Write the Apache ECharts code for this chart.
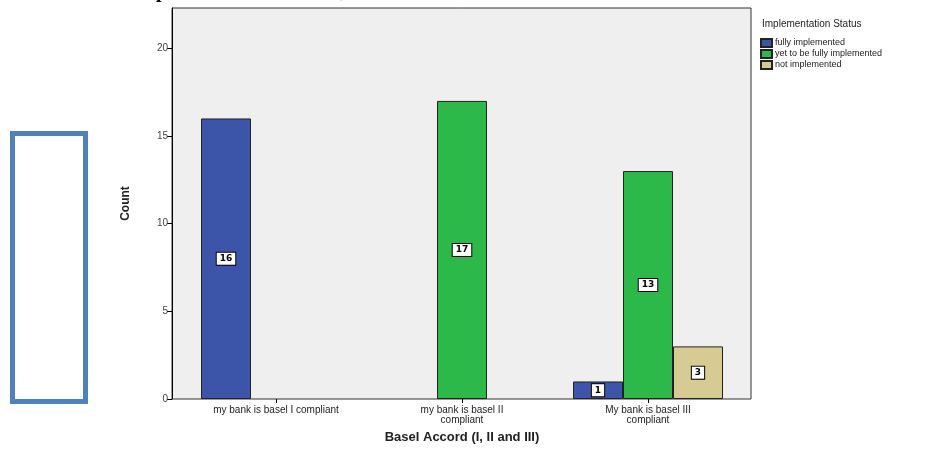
<!DOCTYPE html>
<html>
<head>
<meta charset="utf-8">
<script src="https://cdn.jsdelivr.net/npm/echarts@6/dist/echarts.min.js"></script>
<style>html,body{margin:0;padding:0;background:#fff;}#c{width:943px;height:451px;}</style>
</head>
<body>
<div id="c"></div>
<script>
const categories = ["my bank is basel I compliant", "my bank is basel II\ncompliant", "My bank is basel III\ncompliant"];
const seriesNames = ["fully implemented", "yet to be fully implemented", "not implemented"];
const fullyImplemented = [16, null, 1];
const yetToBeFully = [null, 17, 13];
const notImplemented = [null, null, 3];
const yTicks = [0, 5, 10, 15, 20];

const colors = ["#3d55a8", "#2db84a", "#d6cb92"];
const chart = echarts.init(document.getElementById('c'));
const labelCfg = {
  show: true, position: 'inside', color: '#000', fontSize: 9, fontWeight: 'bold',
  fontFamily: 'DejaVu Sans', backgroundColor: '#fff', borderColor: '#000', borderWidth: 1,
  padding: [2, 3, 1, 3], formatter: p => p.value
};
function mk(name, data, i) {
  return {
    name: name, type: 'bar', data: data, xAxisIndex: 1, yAxisIndex: 1,
    barWidth: 50, barGap: '0%',
    itemStyle: { color: colors[i], borderColor: '#222', borderWidth: 1 },
    label: labelCfg
  };
}
chart.setOption({
  animation: false,
  backgroundColor: '#fff',
  title: [
    { text: 'Status of Basel Implementation in India, bank wise', left: -4, top: -23,
      textStyle: { fontFamily: 'Liberation Serif', fontWeight: 'bold', fontSize: 20, color: '#000' } },
    { text: 'Implementation Status', left: 757, top: 14,
      textStyle: { fontFamily: 'Liberation Sans', fontWeight: 'normal', fontSize: 10, color: '#222' } }
  ],
  graphic: [{
    type: 'rect', left: 10, top: 131,
    shape: { width: 73, height: 268 },
    style: { fill: '#fff', stroke: '#4f81bd', lineWidth: 5 }
  }],
  legend: {
    data: seriesNames, orient: 'vertical', left: 755, top: 33,
    itemWidth: 11, itemHeight: 8, itemGap: 1,
    textStyle: { fontSize: 9, fontFamily: 'Liberation Sans', color: '#222', padding: [0,0,0,-2] },
    icon: 'rect'
  },
  grid: [
    { left: 172, right: 192, top: 8, bottom: 52, show: true, backgroundColor: '#efefef', borderColor: '#333', borderWidth: 1, outerBoundsMode: 'none', containLabel: false },
    { left: 183, right: 202, top: 8, bottom: 52, outerBoundsMode: 'none', containLabel: false }
  ],
  xAxis: [
    { type: 'category', gridIndex: 0, data: categories, show: false },
    {
      type: 'category', gridIndex: 1, data: categories,
      axisLine: { show: false },
      axisTick: { show: true, alignWithLabel: true, length: 4, lineStyle: { color: '#000' } },
      axisLabel: { fontSize: 10, fontFamily: 'Liberation Sans', color: '#222', margin: 6, lineHeight: 10, interval: 0 },
      name: 'Basel Accord (I, II and III)', nameLocation: 'middle', nameGap: 32,
      nameTextStyle: { fontSize: 13, fontWeight: 'bold', fontFamily: 'Liberation Sans', color: '#222' }
    }
  ],
  yAxis: [
    {
      type: 'value', gridIndex: 0, min: 0, max: 22.3, interval: 5,
      axisLine: { show: true, lineStyle: { color: '#000' } },
      axisTick: { show: true, length: 5, lineStyle: { color: '#000' } },
      splitLine: { show: false },
      axisLabel: { fontSize: 10, fontFamily: 'Liberation Sans', color: '#444', showMaxLabel: false, margin: 4,
        formatter: v => yTicks.indexOf(v) >= 0 ? String(v) : '' },
      name: 'Count', nameLocation: 'middle', nameGap: 40, nameRotate: 90,
      nameTextStyle: { fontSize: 12, fontWeight: 'bold', fontFamily: 'Liberation Sans', color: '#222' }
    },
    { type: 'value', gridIndex: 1, min: 0, max: 22.3, interval: 5, show: false, splitLine: { show: false } }
  ],
  series: [
    mk(seriesNames[0], fullyImplemented, 0),
    mk(seriesNames[1], yetToBeFully, 1),
    mk(seriesNames[2], notImplemented, 2)
  ]
});
</script>
</body>
</html>
